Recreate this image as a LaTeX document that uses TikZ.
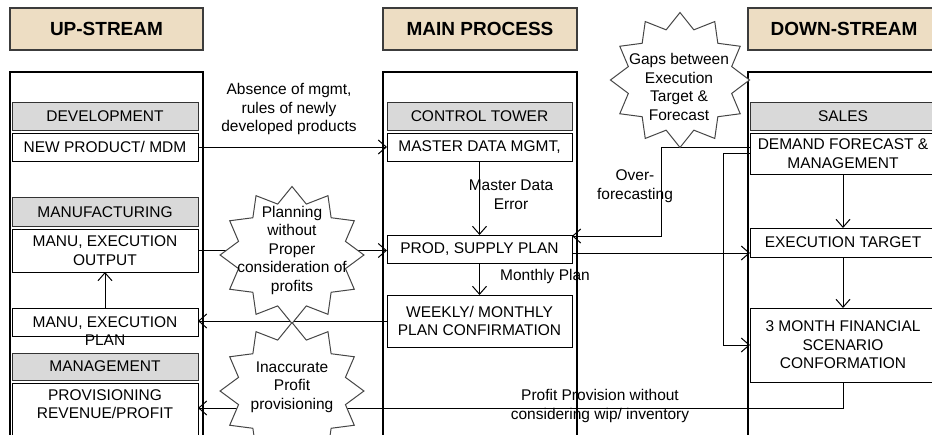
\documentclass[tikz,border=0pt]{standalone}
\usepackage{fontspec}
\setmainfont{Liberation Sans}
\usetikzlibrary{shapes.geometric,arrows.meta}
\definecolor{hdrtan}{RGB}{237,221,195}
\definecolor{titlegray}{RGB}{217,217,217}
\definecolor{burstline}{RGB}{70,70,70}
\definecolor{hdrline}{RGB}{60,60,60}

\begin{document}
\begin{tikzpicture}[x=1pt,y=-1pt,
  every node/.style={inner sep=0pt, outer sep=0pt},
  bodyfont/.style={font=\fontsize{15.5}{18.5}\selectfont},
  hdr/.style={draw=hdrline, line width=1.3pt, fill=hdrtan, minimum height=42pt,
              font=\fontsize{19}{22}\selectfont\bfseries},
  colbox/.style={draw=black, line width=2.2pt, fill=white, anchor=north, minimum height=440pt},
  box/.style={draw=black, line width=0.9pt, fill=white, bodyfont, align=center},
  gbox/.style={box, fill=titlegray, draw=black!80},
  txt/.style={bodyfont, align=center},
  burst/.style={star, star points=12, star point ratio=1.3, draw=burstline,
                line width=1pt, fill=white, minimum size=137pt},
  arr/.style={line width=1pt, -{Straight Barb[length=8pt,width=14pt]}}
]
\useasboundingbox (0,0) rectangle (932,434);
\clip (0,0) rectangle (932,434);

% column headers
\node[hdr, minimum width=193pt] (hup)   at (106.5,29) {UP-STREAM};
\node[hdr, minimum width=194pt] (hmain) at (480,29)   {MAIN PROCESS};
\node[hdr, minimum width=192pt] (hdown) at (844,29)   {DOWN-STREAM};

% column frames
\node[colbox, minimum width=193pt] (colup)   at (106.5,72) {};
\node[colbox, minimum width=194pt] (colmain) at (480,72)   {};
\node[colbox, minimum width=212pt] (coldown) at (854,72)   {};

% up-stream boxes
\node[gbox, minimum width=186pt, minimum height=28pt] (dev)     at (105,116)   {DEVELOPMENT};
\node[box,  minimum width=186pt, minimum height=28pt] (newprod) at (105,147)   {NEW PRODUCT/ MDM};
\node[gbox, minimum width=186pt, minimum height=29pt] (manuf)   at (105,212)   {MANUFACTURING};
\node[box,  minimum width=186pt, minimum height=43pt] (manuout) at (105,250.5) {MANU, EXECUTION\\OUTPUT};
\node[box,  minimum width=186pt, minimum height=28pt] (manuplan) at (105,322)  {};
\node[txt] (manuplantxt) at (105,331) {MANU, EXECUTION\\PLAN};
\node[gbox, minimum width=186pt, minimum height=27pt] (mgmt)    at (105,366.5) {MANAGEMENT};
\node[box,  minimum width=186pt, minimum height=77pt] (prov)    at (105,421.5) {};
\node[txt] (provtxt) at (105,404) {PROVISIONING\\REVENUE/PROFIT};

% main process boxes
\node[gbox, minimum width=185pt, minimum height=28pt] (ctower)   at (479.5,116) {CONTROL TOWER};
\node[box,  minimum width=185pt, minimum height=28pt] (mdm)      at (479.5,147) {MASTER DATA MGMT,};
\node[box,  minimum width=185pt, minimum height=28pt] (prodplan) at (479.5,249) {PROD, SUPPLY PLAN};
\node[box,  minimum width=185pt, minimum height=52pt] (weekly)   at (479.5,321) {WEEKLY/ MONTHLY\\PLAN CONFIRMATION};

% down-stream boxes
\node[gbox, minimum width=186pt, minimum height=28pt] (sales)      at (843,116)   {SALES};
\node[box,  minimum width=186pt, minimum height=41pt] (demand)     at (843,153.5) {DEMAND FORECAST \&\\MANAGEMENT};
\node[box,  minimum width=186pt, minimum height=29pt] (exectarget) at (843,242.5) {EXECUTION TARGET};
\node[box,  minimum width=186pt, minimum height=74pt] (month3)     at (843,345)   {3 MONTH FINANCIAL\\SCENARIO\\CONFORMATION};

% connectors
\draw[arr] (newprod.east) -- (mdm.west);
\draw[arr] (mdm.south) -- (prodplan.north);
\draw[arr] (prodplan.south) -- (weekly.north);
\draw[arr] (manuout.east) -- (manuout.east -| prodplan.west);
\draw[arr] (weekly.west) -- (weekly.west -| manuplan.east);
\draw[arr] (manuplan.north) -- (manuout.south);
\draw[arr] (month3.south) |- ([yshift=13.5pt]prov.east);
\coordinate (ofbend) at (661,147);
\draw[arr] ([yshift=6.5pt]demand.west) -- (ofbend) |- ([yshift=13pt]prodplan.east);
\draw[arr] ([yshift=-4pt]prodplan.east) -- ([yshift=-4pt]prodplan.east -| exectarget.west);
\coordinate (dmbend) at (723,153.5);
\draw[arr] (demand.west) -- (dmbend) |- (month3.west);
\draw[arr] (demand.south) -- (exectarget.north);
\draw[arr] (exectarget.south) -- (month3.north);

% issue bursts, slightly wider than tall
\begin{scope}[shift={(292,255)}, xscale=1.05, transform shape]
  \node[burst] (plan) at (0,0) {};
\end{scope}
\begin{scope}[shift={(292,391)}, xscale=1.05, transform shape]
  \node[burst] (inacc) at (0,0) {};
\end{scope}
\begin{scope}[shift={(680,80)}, xscale=1.03, transform shape]
  \node[burst, minimum size=135pt] (gaps) at (0,0) {};
\end{scope}
\node[txt] (plantxt)  at (292,250) {Planning\\without\\Proper\\consideration of\\profits};
\node[txt] (inacctxt) at (292,387) {Inaccurate\\Profit\\provisioning};
\node[txt] (gapstxt)  at (679,87)  {Gaps between\\Execution\\Target \&\\Forecast};

% connector labels
\node[txt] (lblabsence) at (289,109)   {Absence of mgmt,\\rules of newly\\developed products};
\node[txt] (lblmde)     at (511,194.5) {Master Data\\Error};
\node[txt] (lblmonthly) at (545,276)   {Monthly Plan};
\node[txt] (lblover)    at (635,186)   {Over-\\forecasting};
\node[txt] (lblprofit)  at (600,406)   {Profit Provision without\\considering wip/ inventory};
\end{tikzpicture}
\end{document}
